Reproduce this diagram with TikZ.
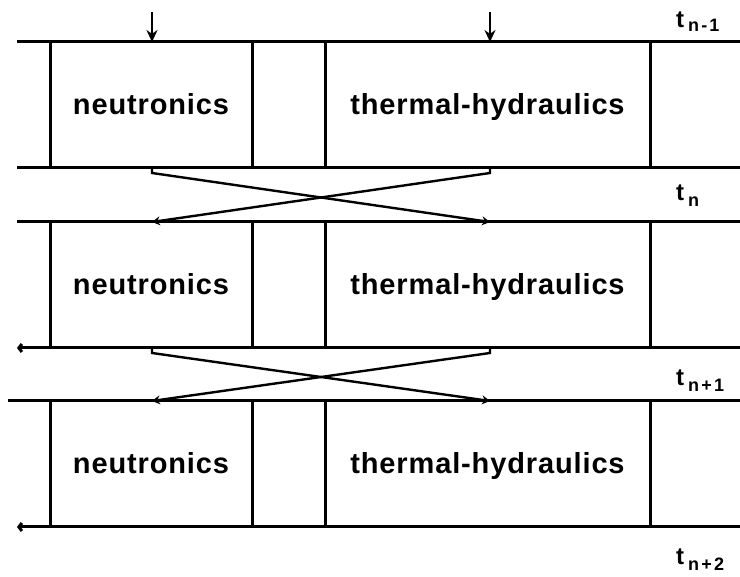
\documentclass[tikz,border=0pt]{standalone}
\usepackage{fontspec}
\setmainfont{Liberation Sans}
\usepackage{tikz}
\usetikzlibrary{arrows.meta,positioning}

\begin{document}
\begin{tikzpicture}[
  x=1pt, y=-1pt,
  font=\fontsize{29}{32}\selectfont\bfseries\addfontfeature{LetterSpace=3},
  box/.style={draw, rectangle, align=center, minimum height=126pt, text height=24pt, text depth=4pt, inner sep=0pt, outer sep=0pt, line width=3pt},
  neut/.style={box, minimum width=202pt},
  therm/.style={box, minimum width=325pt},
  timeline/.style={line width=3pt},
  back/.style={timeline, {Straight Barb[length=3pt,width=8pt]}-},
  line/.style={-{Stealth[length=12pt,width=11pt]}, line width=2.6pt},
  cross/.style={-{Stealth[length=8pt,width=9pt]}, line width=2.4pt},
  tlabel/.style={anchor=west, inner sep=0pt, font=\fontsize{24}{24}\selectfont\bfseries}
]
\useasboundingbox (0,0) rectangle (740,577);

\node[neut] (neut1) at (151,105) {neutronics};
\node[therm, right=73pt of neut1] (therm1) {thermal-hydraulics};
\node[neut, below=54pt of neut1] (neut2) {neutronics};
\node[therm, right=73pt of neut2] (therm2) {thermal-hydraulics};
\node[neut, below=53pt of neut2] (neut3) {neutronics};
\node[therm, right=73pt of neut3] (therm3) {thermal-hydraulics};

\coordinate (left) at (17,0);
\coordinate (right) at (740,0);
\coordinate (in1) at (152,12);
\coordinate (in2) at (490,12);

\draw[timeline] (left |- neut1.north) -- (right |- neut1.north);
\draw[timeline] (left |- neut1.south) -- (right |- neut1.south);
\draw[timeline] (left |- neut2.north) -- (right |- neut2.north);
\draw[back] (left |- neut2.south) -- (right |- neut2.south);
\draw[timeline] ([xshift=-9pt]left |- neut3.north) -- (right |- neut3.north);
\draw[back] (left |- neut3.south) -- (right |- neut3.south);

\draw[line] (in1) -- (in1 |- neut1.north);
\draw[line] (in2) -- (in2 |- therm1.north);
\draw[cross] (in1 |- neut1.south) -- ++(0,5) -- (in2 |- therm2.north);
\draw[cross] (in2 |- therm1.south) -- ++(0,5) -- (in1 |- neut2.north);
\draw[cross] (in1 |- neut2.south) -- ++(0,5) -- (in2 |- therm3.north);
\draw[cross] (in2 |- therm2.south) -- ++(0,5) -- (in1 |- neut3.north);

\node[tlabel] (tnm1) at (676,22) {t\,\raisebox{-4pt}{\fontsize{18}{18}\selectfont\addfontfeature{LetterSpace=12}n-1}};
\node[tlabel] (tn) at (676,196) {t\,\raisebox{-6pt}{\fontsize{18}{18}\selectfont n}};
\node[tlabel] (tnp1) at (676,381) {t\,\raisebox{-6pt}{\fontsize{18}{18}\selectfont\addfontfeature{LetterSpace=12}n+1}};
\node[tlabel] (tnp2) at (676,560) {t\,\raisebox{-6pt}{\fontsize{18}{18}\selectfont\addfontfeature{LetterSpace=12}n+2}};
\end{tikzpicture}
\end{document}
